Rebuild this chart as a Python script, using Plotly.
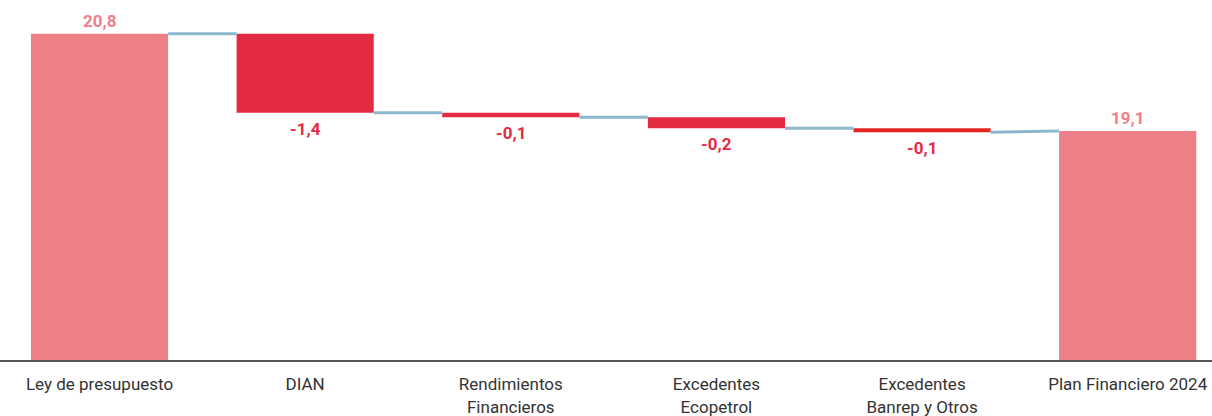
import plotly.graph_objects as go

categories = ["Ley de presupuesto", "DIAN", "Rendimientos<br>Financieros",
              "Excedentes<br>Ecopetrol", "Excedentes<br>Banrep y Otros",
              "Plan Financiero 2024"]
values = [20.8, -1.38, -0.08, -0.19, -0.07, 19.1]
kinds = ["total", "delta", "delta", "delta", "delta", "total"]
labels = ["20,8", "-1,4", "-0,1", "-0,2", "-0,1", "19,1"]
bar_colors = ["#EF7F87", "#E52A43", "#E52A43", "#E52A43", "#E4251F", "#EF7F87"]
label_colors = ["#F08088", "#E52A43", "#E52A43", "#E52A43", "#E52A43", "#F08088"]

W = 0.667
FONT = "Roboto, Arial, sans-serif"

bases, heights, starts, ends = [], [], [], []
level = 0.0
for v, k in zip(values, kinds):
    if k == "total":
        bases.append(0)
        heights.append(v)
        starts.append(v)
        ends.append(v)
        level = v
    else:
        bases.append(level)
        heights.append(v)
        starts.append(level)
        ends.append(level + v)
        level = level + v

xs = list(range(len(categories)))
fig = go.Figure()
fig.add_trace(go.Bar(x=xs, y=heights, base=bases, width=W,
                     marker=dict(color=bar_colors, line=dict(width=0)),
                     hoverinfo="skip", showlegend=False))

cx, cy = [], []
for i in range(len(xs) - 1):
    cx += [xs[i] + W / 2, xs[i + 1] - W / 2, None]
    cy += [ends[i], starts[i + 1], None]
fig.add_trace(go.Scatter(x=cx, y=cy, mode="lines",
                         line=dict(color="#8BB8CF", width=3),
                         hoverinfo="skip", showlegend=False))

for i, k in enumerate(kinds):
    if k == "total":
        fig.add_annotation(x=xs[i], y=values[i], text="<b>" + labels[i] + "</b>",
                           showarrow=False, yanchor="bottom", yshift=1,
                           font=dict(family=FONT, size=17, color=label_colors[i]))
    else:
        fig.add_annotation(x=xs[i], y=ends[i], text="<b>" + labels[i] + "</b>",
                           showarrow=False, yanchor="top", yshift=-4,
                           font=dict(family=FONT, size=17, color=label_colors[i]))

fig.update_layout(
    width=1212, height=416,
    margin=dict(l=0, r=0, t=0, b=56),
    plot_bgcolor="white", paper_bgcolor="white",
    bargap=0.33,
)
fig.update_xaxes(range=[-0.484, 5.41], tickmode="array", tickvals=xs,
                 ticktext=categories, showgrid=False, zeroline=False,
                 showline=True, linecolor="#555555", linewidth=2,
                 ticks="", ticklabelstandoff=8,
                 tickfont=dict(family=FONT, size=17, color="#333333"))
fig.update_yaxes(range=[15.1, 21.39], visible=False, showgrid=False)

fig.write_html("out.html", config={"displayModeBar": False},
               post_script="document.body.style.margin='0';")
